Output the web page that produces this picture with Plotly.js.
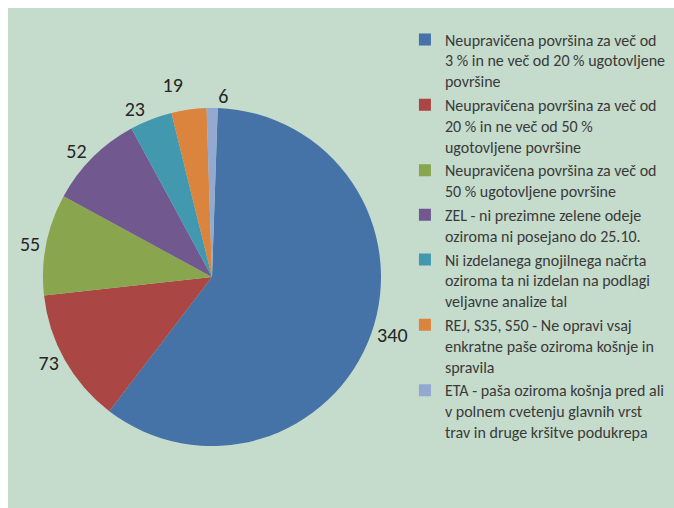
<!DOCTYPE html>
<html>
<head>
<meta charset="utf-8">
<script src="https://cdn.plot.ly/plotly-3.0.1.min.js"></script>
<style>
html,body{margin:0;padding:0;background:#ffffff;width:674px;height:508px;overflow:hidden;}
#chart{position:absolute;left:8px;top:8px;width:666px;height:500px;}
path.textline{stroke-opacity:0 !important;}
</style>
</head>
<body>
<div id="chart"></div>
<script>
const categories = [
  "Neupravičena površina za več od<br>3 % in ne več od 20 % ugotovljene<br>površine",
  "Neupravičena površina za več od<br>20 % in ne več od 50 %<br>ugotovljene površine",
  "Neupravičena površina za več od<br>50 % ugotovljene površine",
  "ZEL - ni prezimne zelene odeje<br>oziroma ni posejano do 25.10.",
  "Ni izdelanega gnojilnega načrta<br>oziroma ta ni izdelan na podlagi<br>veljavne analize tal",
  "REJ, S35, S50 - Ne opravi vsaj<br>enkratne paše oziroma košnje in<br>spravila",
  "ETA - paša oziroma košnja pred ali<br>v polnem cvetenju glavnih vrst<br>trav in druge kršitve podukrepa"
];
const values = [340, 73, 55, 52, 23, 19, 6];
const colors = ["#4572a7", "#aa4643", "#89a54e", "#71588f", "#4198af", "#db843d", "#93a9cf"];

const W = 666, H = 500;
const cx = 204, cy = 269, r = 169;

const font = "Carlito, Lato, 'Open Sans', sans-serif";

const data = [{
  type: "pie",
  labels: categories,
  values: values,
  sort: false,
  direction: "clockwise",
  rotation: 1.95,
  marker: {colors: colors, line: {width: 0}},
  textinfo: "value",
  textposition: "outside",
  outsidetextfont: {family: font, size: 20, color: "#262626"},
  hoverinfo: "label+value",
  domain: {x: [(cx - r) / W, (cx + r) / W], y: [(H - cy - r) / H, (H - cy + r) / H]},
  automargin: false
}];

const layout = {
  width: W,
  height: H,
  margin: {l: 0, r: 0, t: 0, b: 0, autoexpand: false},
  paper_bgcolor: "#c5dbcc",
  plot_bgcolor: "#c5dbcc",
  showlegend: true,
  font: {family: font, color: "#3a3a3a"},
  legend: {
    x: 0.596,
    xanchor: "left",
    y: 0.971,
    yanchor: "top",
    valign: "top",
    bgcolor: "rgba(0,0,0,0)",
    font: {family: font, size: 16, color: "#3a3a3a"},
    traceorder: "normal"
  }
};

Plotly.newPlot("chart", data, layout, {displayModeBar: false, staticPlot: true});
</script>
</body>
</html>
